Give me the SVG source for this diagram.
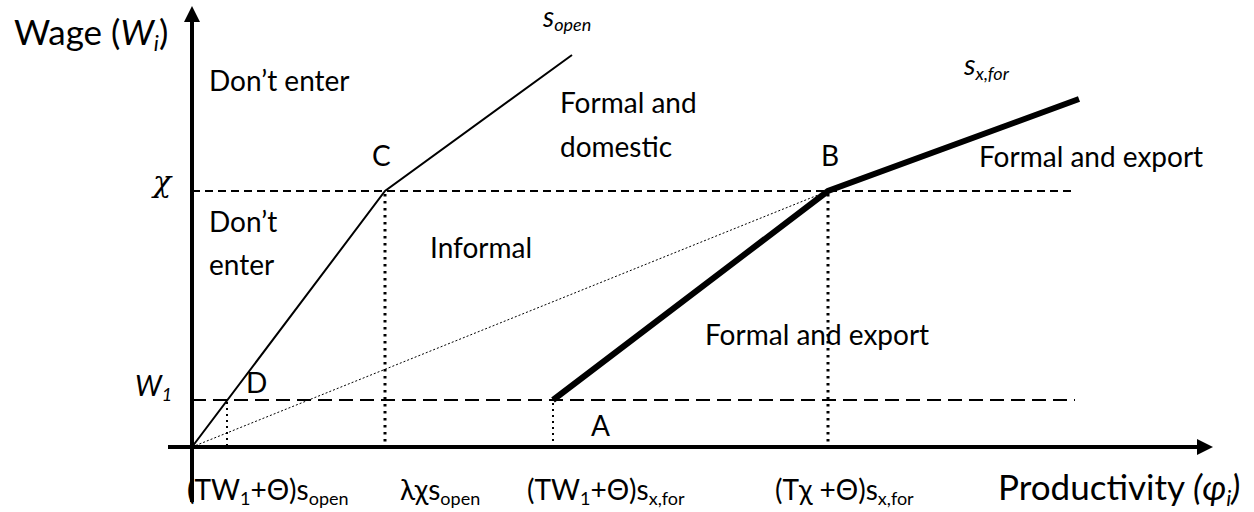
<svg xmlns="http://www.w3.org/2000/svg" width="1254" height="512" viewBox="0 0 1254 512">
<style>
text{font-family:Lato,"Liberation Sans",sans-serif;fill:#000}
.lbl{font-size:28px}
.ax{font-size:35px}
.tk{font-size:28px}
.it{font-style:italic}
.sub{font-size:18px}
.sub2{font-size:22px}
.axis{stroke:#000;stroke-width:4;fill:none}
.dashA{stroke:#000;stroke-width:1.8;stroke-dasharray:8 5;fill:none}
.dashB{stroke:#000;stroke-width:1.8;stroke-dasharray:14 7;fill:none}
.dotBig{stroke:#000;stroke-width:3;stroke-dasharray:2.5 4.5;fill:none}
.dotSmall{stroke:#000;stroke-width:2;stroke-dasharray:2 4;fill:none}
.fine{stroke:#000;stroke-width:1;stroke-dasharray:2 2;fill:none}
</style>
<rect width="1254" height="512" fill="#fff"/>
<g id="axes">
<line class="axis" x1="192" y1="502" x2="192" y2="20"/>
<polygon points="192,6 184,22 200,22" fill="#000"/>
<line class="axis" x1="168" y1="447" x2="1199" y2="447"/>
<polygon points="1213,447 1197,439 1197,455" fill="#000"/>
</g>
<g id="connectors">
<line class="dashA" x1="192" y1="191" x2="1075" y2="191"/>
<line class="dashB" x1="192" y1="400" x2="1075" y2="400"/>
<line class="fine" x1="192" y1="447" x2="828" y2="191"/>
<polyline points="192,447 385,191 572,55" fill="none" stroke="#000" stroke-width="2"/>
<polyline points="553,400 828,191 1079,99" fill="none" stroke="#000" stroke-width="6" stroke-linejoin="miter"/>
<line class="dotSmall" x1="227" y1="402" x2="227" y2="445"/>
<line class="dotBig" x1="385" y1="194" x2="385" y2="445"/>
<line class="dotSmall" x1="553" y1="403" x2="553" y2="445"/>
<line class="dotBig" x1="828" y1="194" x2="828" y2="445"/>
</g>
<g id="axis-labels">
<text class="ax" x="14" y="45">Wage (<tspan class="it">W</tspan><tspan class="it sub2" dy="6">i</tspan><tspan dy="-6">)</tspan></text>
<text class="tk it" x="153" y="192" style="font-family:'DejaVu Serif',serif;font-size:30px">χ</text>
<text class="tk it" x="135" y="396">W<tspan class="sub" dy="5">1</tspan></text>
<text class="ax" x="998" y="500">Productivity <tspan class="it">(φ</tspan><tspan class="it sub2" dy="6">i</tspan><tspan class="it" dy="-6">)</tspan></text>
<text class="it" x="543" y="27" style="font-size:28px">s<tspan class="sub" dy="4">open</tspan></text>
<text class="it" x="964" y="75" style="font-size:29px">s<tspan class="sub" dy="5">x,for</tspan></text>
</g>
<g id="tick-labels">
<text class="tk" x="187" y="500">(TW<tspan class="sub" dy="5">1</tspan><tspan dy="-5">+Θ)s</tspan><tspan class="sub" dy="5">open</tspan></text>
<text class="tk" x="400" y="500">λχs<tspan class="sub" dy="5">open</tspan></text>
<text class="tk" x="527" y="500">(TW<tspan class="sub" dy="5">1</tspan><tspan dy="-5">+Θ)s</tspan><tspan class="sub" dy="5">x,for</tspan></text>
<text class="tk" x="775" y="500">(Tχ +Θ)s<tspan class="sub" dy="5">x,for</tspan></text>
</g>
<g id="points">
<text class="lbl" x="372" y="166">C</text>
<text class="lbl" x="821" y="166">B</text>
<text class="lbl" x="591" y="436">A</text>
<text class="lbl" x="246" y="393">D</text>
</g>
<g id="regions">
<text class="lbl" x="209" y="91">Don’t enter</text>
<text class="lbl" x="209" y="232">Don’t</text>
<text class="lbl" x="209" y="275">enter</text>
<text class="lbl" x="430" y="258">Informal</text>
<text class="lbl" x="560" y="113">Formal and</text>
<text class="lbl" x="560" y="157">domestic</text>
<text class="lbl" x="705" y="345">Formal and export</text>
<text class="lbl" x="979" y="167">Formal and export</text>
</g>
</svg>
